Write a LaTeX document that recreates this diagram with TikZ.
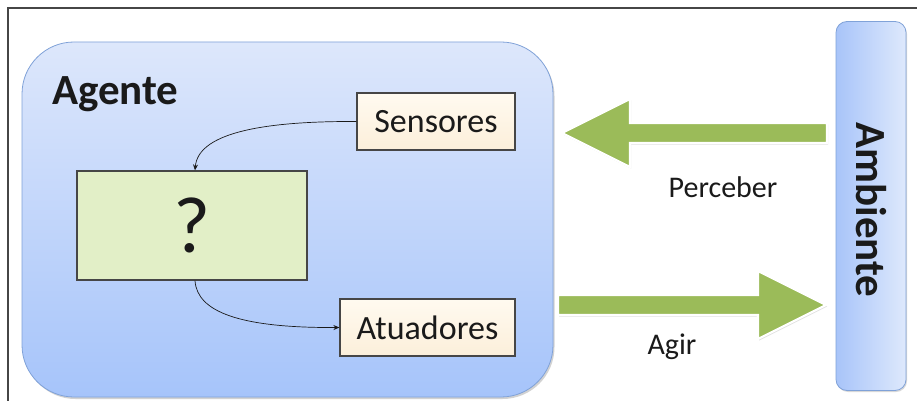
\documentclass[tikz,border=0pt]{standalone}
\usepackage{fontspec}
\setmainfont{Carlito}
\usetikzlibrary{arrows.meta,shadows}

\definecolor{agtop}{RGB}{221,231,251}
\definecolor{agbot}{RGB}{166,196,250}
\definecolor{agedge}{RGB}{128,162,216}
\definecolor{amleft}{RGB}{168,196,249}
\definecolor{amright}{RGB}{222,233,252}
\definecolor{cream}{RGB}{252,239,218}
\definecolor{creamhi}{RGB}{255,250,240}
\definecolor{paleGreen}{RGB}{226,239,199}
\definecolor{arrowGreen}{RGB}{155,187,89}
\definecolor{ink}{RGB}{26,26,26}
\definecolor{frame}{RGB}{70,70,70}

\tikzset{
  panel/.style={draw=agedge, line width=0.8pt, rounded corners=52,
    top color=agtop, bottom color=agbot,
    drop shadow={shadow xshift=1.5pt, shadow yshift=-2pt, opacity=.35}},
  envbar/.style={draw=agedge, line width=0.8pt, rounded corners=11,
    left color=amleft, right color=amright,
    drop shadow={shadow xshift=1pt, shadow yshift=-1.5pt, opacity=.3}},
  unitbox/.style={draw=frame, line width=1.2pt, top color=creamhi, bottom color=cream,
    inner sep=0pt, font=\fontsize{34}{36}\selectfont, text=ink,
    drop shadow={shadow xshift=1pt, shadow yshift=-1pt, opacity=.3}},
  brainbox/.style={draw=frame, line width=1.2pt, fill=paleGreen, inner sep=0pt,
    font=\fontsize{80}{84}\selectfont, text=ink,
    drop shadow={shadow xshift=1pt, shadow yshift=-1pt, opacity=.3}},
  flow/.style={draw=ink, line width=0.7pt, -{Stealth[length=6pt,width=5pt]}},
  bigarrow/.style={fill=arrowGreen, draw=white, line width=2.2pt, line join=miter,
    drop shadow={shadow xshift=1pt, shadow yshift=-1.5pt, opacity=.25}},
  caption/.style={font=\fontsize{30}{32}\selectfont, text=ink, inner sep=0pt},
  heading/.style={inner sep=0pt, text=ink, font=\fontsize{43}{45}\selectfont\bfseries},
}

\begin{document}
\begin{tikzpicture}[x=1pt, y=-1pt]
\useasboundingbox (0,0) rectangle (917,401);
\fill[white] (0,0) rectangle (917,401);

% page frame
\draw[frame, line width=1.4pt] (8,401) -- (8,8) -- (917,8);

% agent panel
\node[panel, minimum width=531, minimum height=355] (agente) at (287.5,219.5) {};
\node[heading, anchor=base west] (agtitle) at (52,105) {Agente};

% environment bar
\node[envbar, minimum width=70, minimum height=369] (ambiente) at (871,206) {};
\node[heading, rotate=-90] (amtitle) at (871,210) {Ambiente};

% inner boxes
\node[unitbox, minimum width=158, minimum height=57] (sensores) at (436,121.5) {Sensores};
\node[unitbox, minimum width=175, minimum height=57] (atuadores) at (427.5,327.5) {Atuadores};
\node[brainbox, minimum width=230, minimum height=109] (brain) at (192,225.5) {?};

% internal flow
\draw[flow] (sensores.west) .. controls (255,121) and (198,135) .. (brain.north -| 195,0);
\draw[flow] (brain.south -| 195,0) .. controls (197,312) and (240,328) .. (atuadores.west);

% perceive / act arrows
\draw[bigarrow] (827,123) -- (630,123) -- (630,99) -- (562,133) -- (630,167)
                -- (630,143) -- (827,143) -- cycle;
\draw[bigarrow] (558,295) -- (758,295) -- (758,271) -- (826,305) -- (758,339)
                -- (758,315) -- (558,315) -- cycle;

\node[caption] (perceber) at (723,187) {Perceber};
\node[caption] (agir) at (672,347) {Agir};
\end{tikzpicture}
\end{document}
